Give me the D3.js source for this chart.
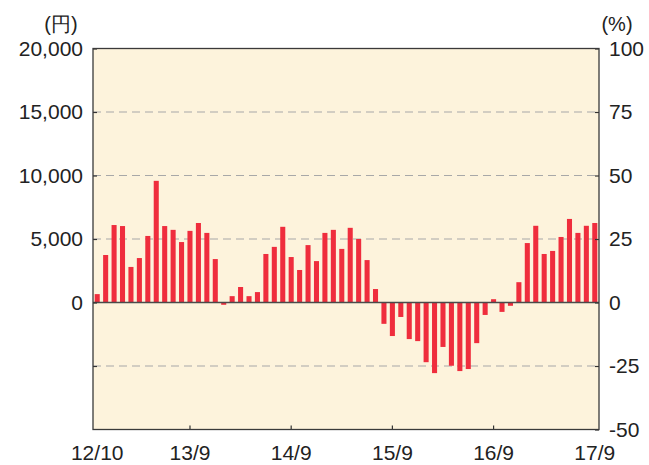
<!DOCTYPE html>
<html><head><meta charset="utf-8">
<script src="https://cdn.jsdelivr.net/npm/d3@7"></script>
<style>
html,body{margin:0;padding:0;background:#fff;}
text{font-family:"Liberation Sans",Arial,Helvetica,sans-serif;fill:#222;}
</style></head>
<body><svg id="c" width="649" height="465"></svg>
<script>
const months = [
 "12/10","12/11","12/12",
 "13/1","13/2","13/3","13/4","13/5","13/6","13/7","13/8","13/9","13/10","13/11","13/12",
 "14/1","14/2","14/3","14/4","14/5","14/6","14/7","14/8","14/9","14/10","14/11","14/12",
 "15/1","15/2","15/3","15/4","15/5","15/6","15/7","15/8","15/9","15/10","15/11","15/12",
 "16/1","16/2","16/3","16/4","16/5","16/6","16/7","16/8","16/9","16/10","16/11","16/12",
 "17/1","17/2","17/3","17/4","17/5","17/6","17/7","17/8","17/9"];
const values = [
 3.3,18.7,30.5,
 30.1,14.0,17.5,26.2,47.9,30.1,28.6,23.8,28.2,31.3,27.4,17.1,
 -0.9,2.5,6.1,2.5,4.1,19.1,21.9,29.8,17.9,12.8,22.6,16.3,
 27.4,28.6,21.1,29.4,25.0,16.7,5.3,-8.4,-13.2,-5.7,-14.4,-15.2,
 -23.5,-27.8,-17.5,-24.9,-27.0,-26.2,-16.0,-4.9,1.3,-3.7,-1.3,8.0,
 23.4,30.2,19.1,20.3,25.8,32.9,27.4,30.2,31.3];
const xTickLabels = ["12/10","13/9","14/9","15/9","16/9","17/9"];
const leftTicks = [-5000,0,5000,10000,15000,20000];
const rightTicks = [-50,-25,0,25,50,75,100];
const gridPct = [-25,25,50,75];
const leftUnit = "(円)";
const rightUnit = "(%)";

const L = 93, R = 599, T = 48.5, B = 429.5;
const svg = d3.select("#c");

const x = d3.scaleBand().domain(months).range([L, R]).paddingInner(0.4).paddingOuter(0.2);
const y = d3.scaleLinear().domain([-50, 100]).range([B, T]);
const yl = d3.scaleLinear().domain([-10000, 20000]).range([B, T]);

svg.append("rect").attr("x", L).attr("y", T).attr("width", R - L).attr("height", B - T)
  .attr("fill", "#FDF3DC");

svg.append("g").selectAll("line").data(gridPct).join("line")
  .attr("x1", L).attr("x2", R).attr("y1", d => y(d)).attr("y2", d => y(d))
  .attr("stroke", "#a8a8a8").attr("stroke-width", 1.2).attr("stroke-dasharray", "8,5");

svg.append("g").selectAll("rect").data(values).join("rect")
  .attr("x", (d, i) => x(months[i]))
  .attr("width", x.bandwidth())
  .attr("y", d => y(Math.max(0, d)))
  .attr("height", d => Math.abs(y(d) - y(0)))
  .attr("fill", "#EF2D3D");

svg.append("line").attr("x1", L).attr("x2", R).attr("y1", y(0)).attr("y2", y(0))
  .attr("stroke", "#4a4a4a").attr("stroke-width", 1.5);

const fmt = d3.format(",");
const gl = svg.append("g").attr("transform", `translate(${L},0)`)
  .call(d3.axisLeft(yl).tickValues(leftTicks).tickSizeInner(-4).tickSizeOuter(0).tickPadding(10)
    .tickFormat(d => d < 0 ? "" : fmt(d)));
const gr = svg.append("g").attr("transform", `translate(${R},0)`)
  .call(d3.axisRight(y).tickValues(rightTicks).tickSizeInner(-4).tickSizeOuter(0).tickPadding(10)
    .tickFormat(d => d));
const gb = svg.append("g").attr("transform", `translate(0,${B})`)
  .call(d3.axisBottom(x).tickValues(xTickLabels).tickSizeInner(-4).tickSizeOuter(0).tickPadding(16));
gb.selectAll(".tick line").filter(d => d === "12/10" || d === "17/9").remove();

[gl, gr, gb].forEach(g => {
  g.select(".domain").remove();
  g.selectAll(".tick line").attr("stroke", "#333").attr("stroke-width", 1.2);
  g.selectAll("text").attr("font-size", 21).attr("fill", "#222")
    .attr("font-family", "'Liberation Sans', Arial, sans-serif");
});

svg.append("rect").attr("x", L).attr("y", T).attr("width", R - L).attr("height", B - T)
  .attr("fill", "none").attr("stroke", "#3a3a3a").attr("stroke-width", 1.3);

svg.append("text").attr("x", 61).attr("y", 31).attr("text-anchor", "middle")
  .attr("font-size", 20).text(leftUnit);
svg.append("text").attr("x", 617).attr("y", 31).attr("text-anchor", "middle")
  .attr("font-size", 20).text(rightUnit);
</script></body></html>
